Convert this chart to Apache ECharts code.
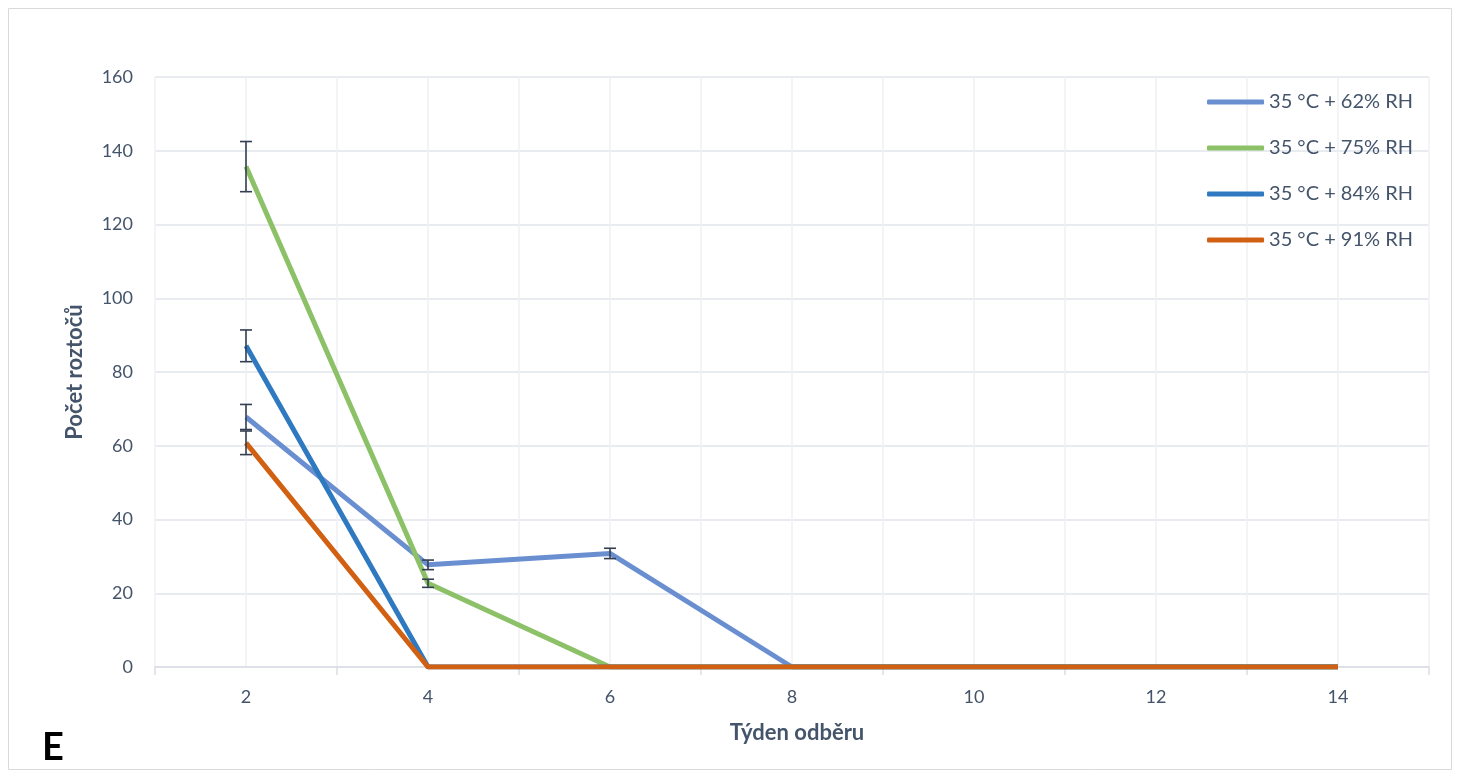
<!DOCTYPE html>
<html><head><meta charset="utf-8">
<script src="https://cdn.jsdelivr.net/npm/echarts@6/dist/echarts.min.js"></script>
<style>html,body{margin:0;padding:0;background:#fff}#c{width:1460px;height:778px}</style>
</head><body><div id="c"></div>
<script>
const weeks = [2, 4, 6, 8, 10, 12, 14];
const seriesNames = ['35 °C + 62% RH', '35 °C + 75% RH', '35 °C + 84% RH', '35 °C + 91% RH'];
const rh62 = [67.8, 27.7, 30.8, 0, 0, 0, 0];
const rh75 = [135.7, 22.7, 0, 0, 0, 0, 0];
const rh84 = [87.1, 0, 0, 0, 0, 0, 0];
const rh91 = [60.8, 0, 0, 0, 0, 0, 0];
const err62 = [3.4, 1.3, 1.4, null, null, null, null];
const err75 = [6.8, 1.1, null, null, null, null, null];
const err84 = [4.3, null, null, null, null, null, null];
const err91 = [3.2, null, null, null, null, null, null];
const yTicks = [0, 20, 40, 60, 80, 100, 120, 140, 160];
const colors = ['#6a8fd1', '#8cc168', '#2f79c1', '#d26012'];

const values = [rh62, rh75, rh84, rh91];
const errs = [err62, err75, err84, err91];
const errData = [];
values.forEach((vals, s) => vals.forEach((v, i) => {
  const e = errs[s][i];
  if (e != null) errData.push([weeks[i], v - e, v + e]);
}));

const font = 'Lato, "Open Sans", sans-serif';
const chart = echarts.init(document.getElementById('c'));
chart.setOption({
  animation: false,
  textStyle: { fontFamily: font },
  graphic: [
    { type: 'rect', shape: { x: 8.5, y: 8.5, width: 1443, height: 761 }, style: { fill: null, stroke: '#d9d9d9', lineWidth: 1 }, silent: true },
    { type: 'text', left: 42, top: 729, style: { text: 'E', fontSize: 38, fontWeight: 'bold', fill: '#000', fontFamily: font } }
  ],
  grid: { left: 155, right: 31, top: 77, bottom: 111 },
  legend: {
    orient: 'vertical', right: 42, top: 87, itemGap: 26, itemWidth: 57, itemHeight: 5,
    textStyle: { fontSize: 20, color: '#44546a', fontFamily: font },
    data: seriesNames.map(n => ({ name: n, icon: 'roundRect' }))
  },
  xAxis: [
    {
      type: 'value', min: 1, max: 15, interval: 1,
      name: 'Týden odběru', nameLocation: 'middle', nameGap: 55,
      nameTextStyle: { fontSize: 22, fontWeight: 'bold', color: '#44546a', fontFamily: font, padding: [0, 0, 0, 10] },
      axisLine: { show: true, lineStyle: { color: '#d9dde3', width: 1.5 } },
      axisTick: { show: false },
      axisLabel: { fontSize: 18, color: '#44546a', margin: 21, formatter: v => (weeks.indexOf(v) >= 0 ? String(v) : '') },
      splitLine: { show: true, lineStyle: { color: '#eef0f4', width: 1.5 } }
    },
    {
      type: 'value', min: 1, max: 15, interval: 2, position: 'bottom',
      axisLine: { show: false },
      axisTick: { show: true, length: 8, lineStyle: { color: '#d9dde3', width: 1.5 } },
      axisLabel: { show: false },
      splitLine: { show: false }
    }
  ],
  yAxis: {
    type: 'value', min: yTicks[0], max: yTicks[yTicks.length - 1], interval: 20,
    name: 'Počet roztočů', nameLocation: 'middle', nameGap: 69,
    nameTextStyle: { fontSize: 22, fontWeight: 'bold', color: '#44546a', fontFamily: font },
    axisLine: { show: false }, axisTick: { show: false },
    axisLabel: { fontSize: 18, color: '#44546a', margin: 22 },
    splitLine: { lineStyle: { color: '#e1e5eb', width: 1.5 } }
  },
  series: [
    ...values.map((vals, s) => ({
      name: seriesNames[s], type: 'line', xAxisIndex: 0,
      data: vals.map((v, i) => [weeks[i], v]),
      showSymbol: false, symbol: 'none',
      lineStyle: { color: colors[s], width: 5 },
      itemStyle: { color: colors[s] },
      z: 2 + s
    })),
    {
      type: 'custom', xAxisIndex: 0, z: 10, silent: true,
      data: errData,
      renderItem: function (params, api) {
        const x = api.value(0);
        const lo = api.coord([x, api.value(1)]);
        const hi = api.coord([x, api.value(2)]);
        const w = 6;
        const st = { stroke: '#333f50', lineWidth: 1.6 };
        return { type: 'group', children: [
          { type: 'line', shape: { x1: lo[0], y1: lo[1], x2: hi[0], y2: hi[1] }, style: st },
          { type: 'line', shape: { x1: lo[0] - w, y1: lo[1], x2: lo[0] + w, y2: lo[1] }, style: st },
          { type: 'line', shape: { x1: hi[0] - w, y1: hi[1], x2: hi[0] + w, y2: hi[1] }, style: st }
        ] };
      }
    }
  ]
});
</script></body></html>
